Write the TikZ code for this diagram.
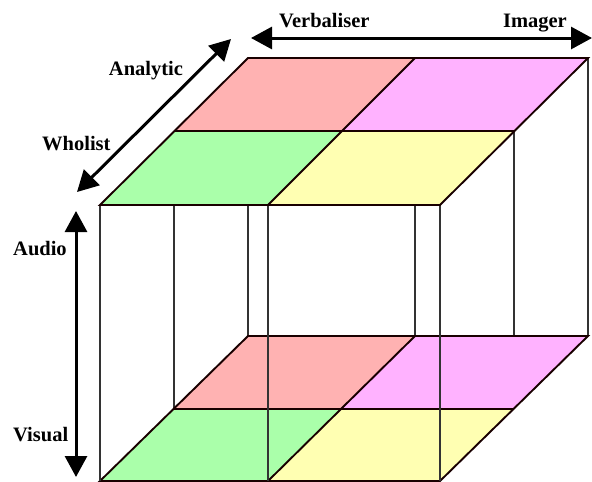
\documentclass[tikz,border=0pt]{standalone}
\usepackage{fontspec}
\setmainfont{Liberation Serif}
\usetikzlibrary{arrows.meta}
\definecolor{cpink}{RGB}{255,178,178}
\definecolor{cviolet}{RGB}{255,178,255}
\definecolor{cgreen}{RGB}{170,255,170}
\definecolor{cyellow}{RGB}{255,255,178}
\tikzset{
  edge/.style={draw=black!90!red, line width=1.9pt, line join=miter},
  vline/.style={draw=black!80, line width=1.9pt},
  axis/.style={line width=3pt, {Triangle[length=21pt,width=22pt]}-{Triangle[length=21pt,width=22pt]}},
  lbl/.style={font=\fontsize{20.5}{24}\selectfont\bfseries, inner sep=0pt}
}
\begin{document}
\begin{tikzpicture}[x=1pt,y=-1pt]
\useasboundingbox (0,0) rectangle (592,482);
% top face corners: back (b), middle (m), front (f); left (l), divider (d), right (r)
\coordinate (Tbl) at (248,58);  \coordinate (Tbd) at (415,58);  \coordinate (Tbr) at (588,58);
\coordinate (Tml) at (174,131); \coordinate (Tmd) at (342,131); \coordinate (Tmr) at (514,131);
\coordinate (Tfl) at (100,205); \coordinate (Tfd) at (268,205); \coordinate (Tfr) at (440,205);
% bottom face corners
\coordinate (Bbl) at (248,336); \coordinate (Bbd) at (415,336); \coordinate (Bbr) at (588,336);
\coordinate (Bml) at (174,409); \coordinate (Bmd) at (342,409); \coordinate (Bmr) at (514,409);
\coordinate (Bfl) at (100,481); \coordinate (Bfd) at (268,481); \coordinate (Bfr) at (440,481);

% back and middle verticals (hidden behind faces)
\draw[vline] (Tbl) -- (Bbl);
\draw[vline] (Tbd) -- (Bbd);
\draw[vline] (Tbr) -- (Bbr);
\draw[vline] (Tml) -- (Bml);
\draw[vline] (Tmr) -- (Bmr);

% bottom face
\fill[cpink]   (Bbl) -- (Bbd) -- (Bmd) -- (Bml) -- cycle;
\fill[cviolet] (Bbd) -- (Bbr) -- (Bmr) -- (Bmd) -- cycle;
\fill[cgreen]  (Bml) -- (Bmd) -- (Bfd) -- (Bfl) -- cycle;
\fill[cyellow] (Bmd) -- (Bmr) -- (Bfr) -- (Bfd) -- cycle;
\draw[edge] (Bbl) -- (Bbr) -- (Bfr) -- (Bfl) -- cycle;
\draw[edge] (Bml) -- (Bmr);
\draw[edge] (Bbd) -- (Bfd);

% front verticals
\draw[vline] (Tfl) -- (Bfl);
\draw[vline] (Tfd) -- (Bfd);
\draw[vline] (Tfr) -- (Bfr);

% top face
\fill[cpink]   (Tbl) -- (Tbd) -- (Tmd) -- (Tml) -- cycle;
\fill[cviolet] (Tbd) -- (Tbr) -- (Tmr) -- (Tmd) -- cycle;
\fill[cgreen]  (Tml) -- (Tmd) -- (Tfd) -- (Tfl) -- cycle;
\fill[cyellow] (Tmd) -- (Tmr) -- (Tfr) -- (Tfd) -- cycle;
\draw[edge] (Tbl) -- (Tbr) -- (Tfr) -- (Tfl) -- cycle;
\draw[edge] (Tml) -- (Tmr);
\draw[edge] (Tbd) -- (Tfd);

% axes
\coordinate (VerbEnd) at (251,38);
\coordinate (ImagEnd) at (592,38);
\coordinate (AnaEnd) at (231,39);
\coordinate (WhoEnd) at (77,192);
\coordinate (AudEnd) at (76,211);
\coordinate (VisEnd) at (76,477);
\draw[axis] (VerbEnd) -- (ImagEnd);
\draw[axis] (WhoEnd) -- (AnaEnd);
\draw[axis] (AudEnd) -- (VisEnd);

% labels
\node[lbl, anchor=base west] (verb) at (279,27) {Verbaliser};
\node[lbl, anchor=base east] (imag) at (567,27) {Imager};
\node[lbl, anchor=base] (ana) at (146,75) {Analytic};
\node[lbl, anchor=base west] (who) at (42,150) {Wholist};
\node[lbl, anchor=base west] (aud) at (13,255) {Audio};
\node[lbl, anchor=base west] (vis) at (13,441) {Visual};
\end{tikzpicture}
\end{document}
